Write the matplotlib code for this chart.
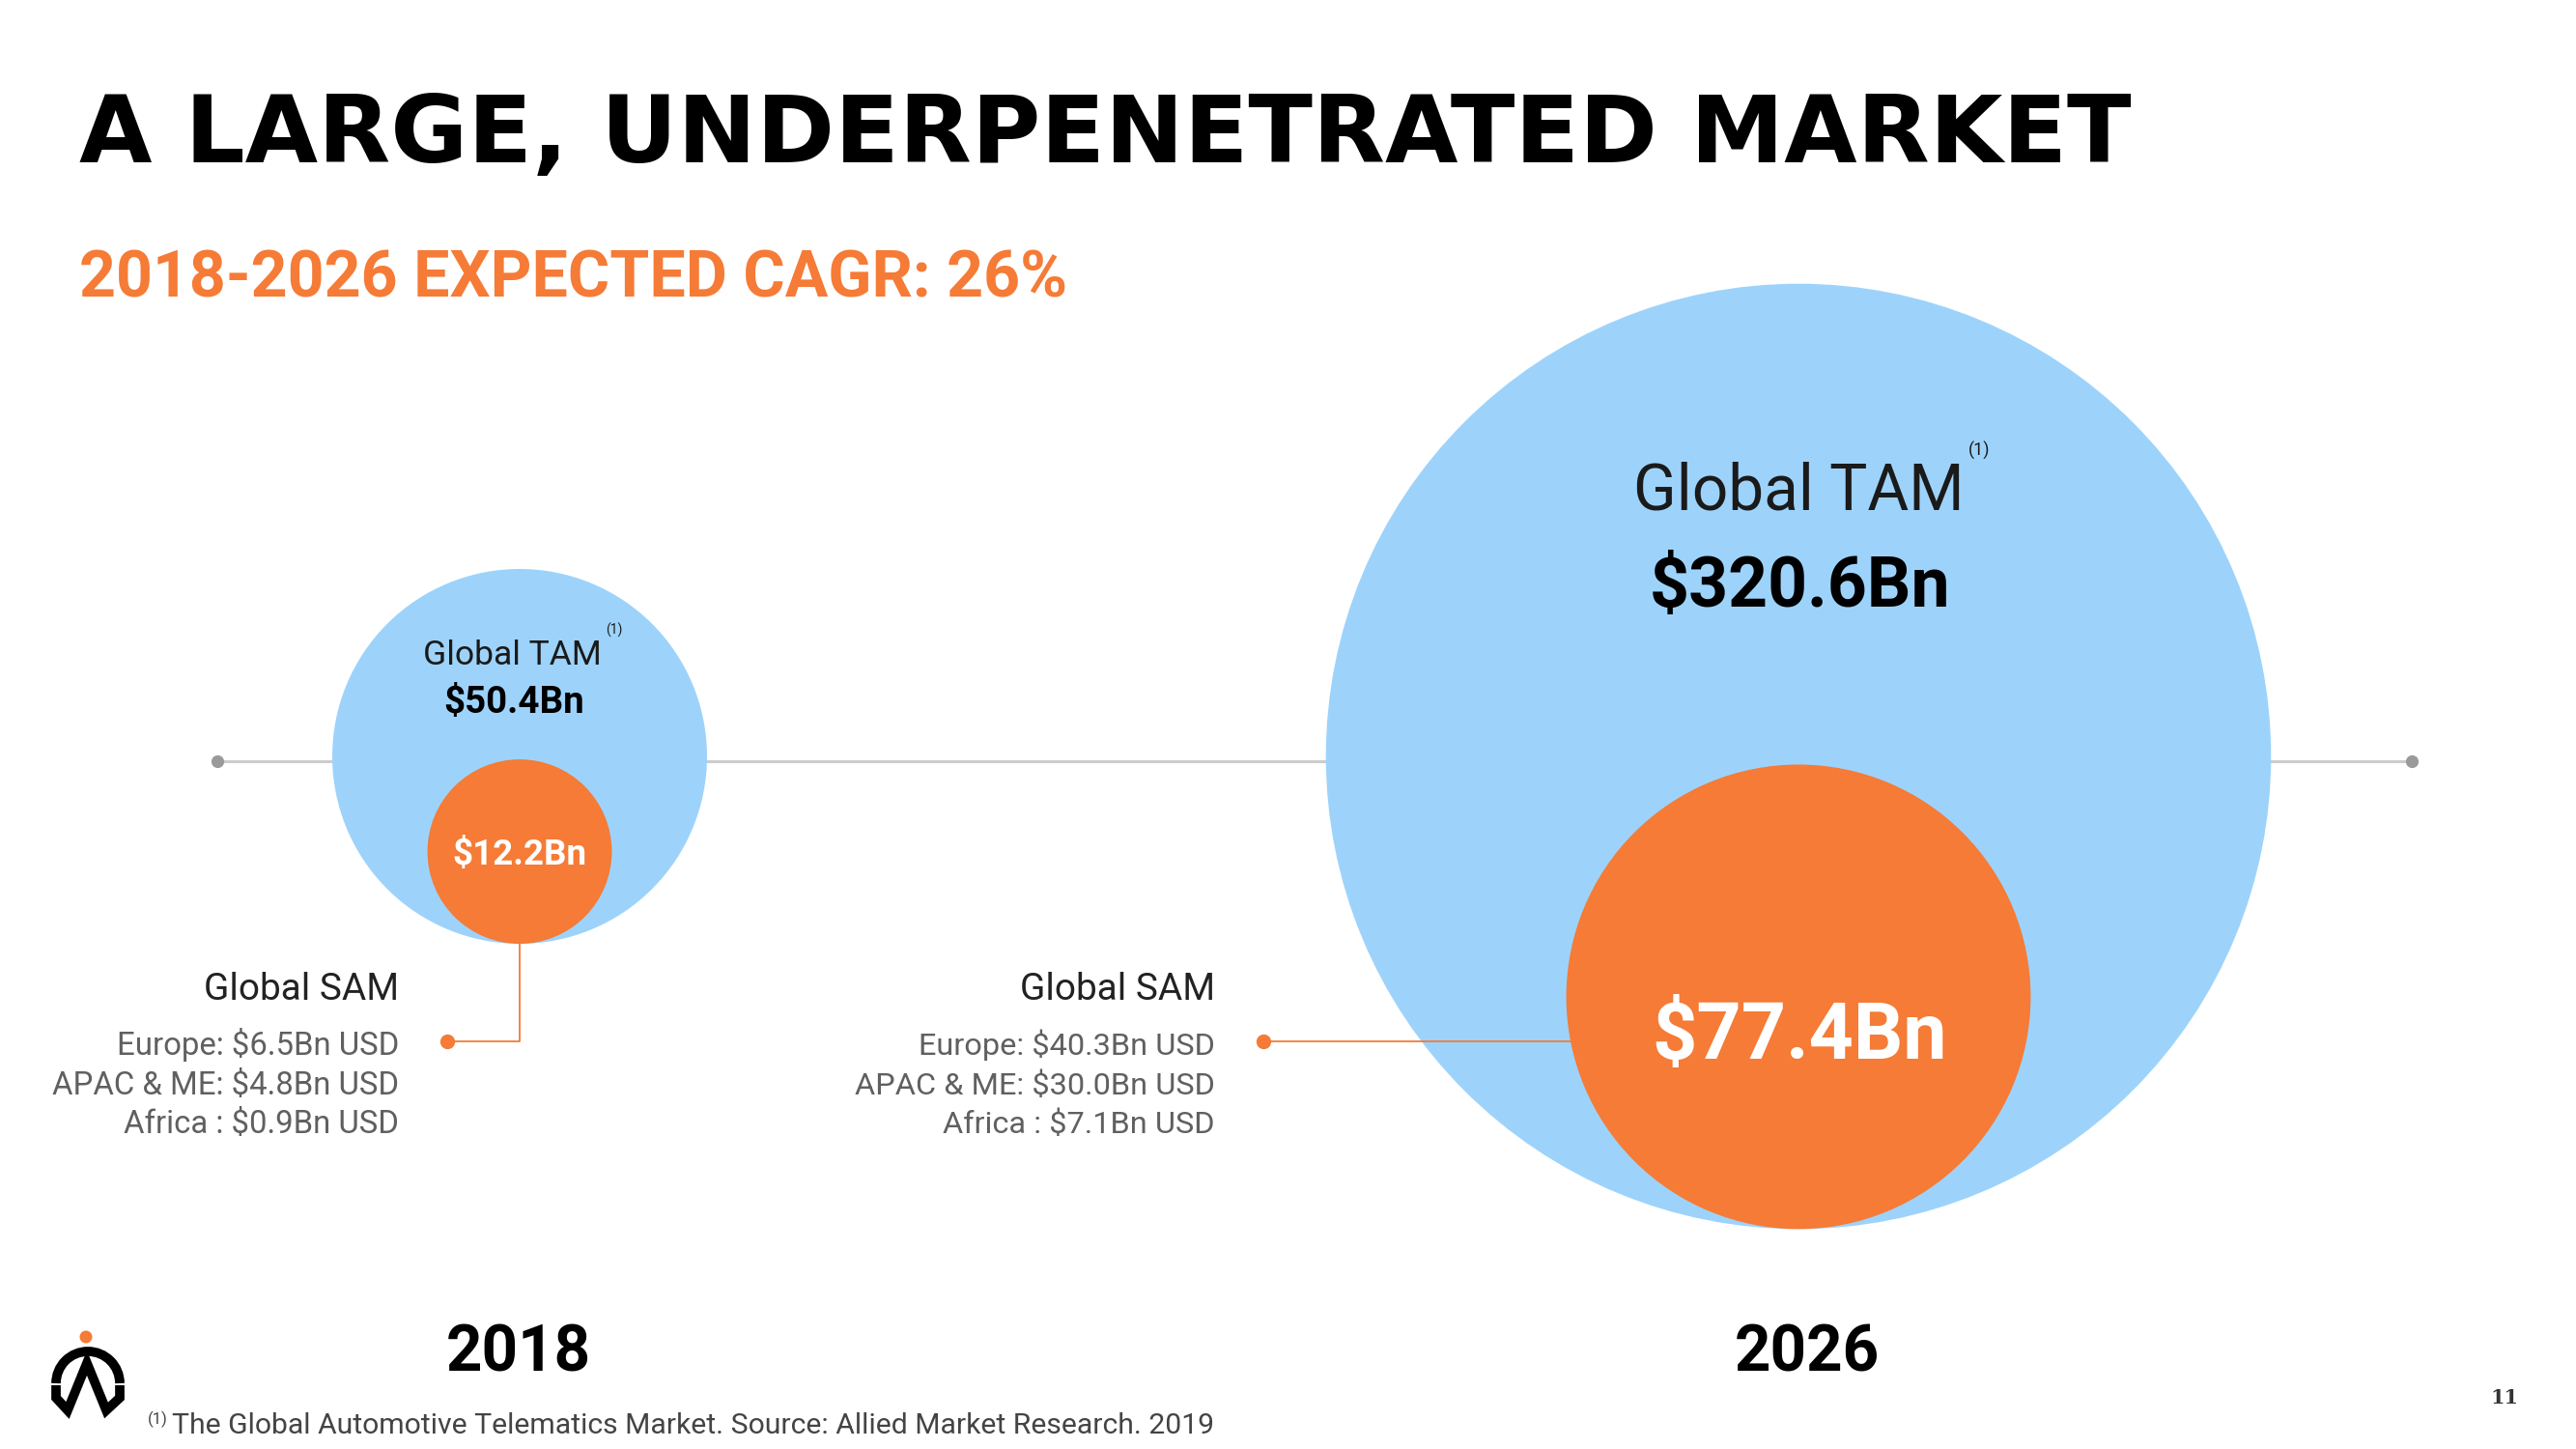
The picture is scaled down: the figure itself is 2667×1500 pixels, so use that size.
"""Market size slide: TAM / SAM bubbles for 2018 and 2026 on a timeline."""
import matplotlib

matplotlib.use("Agg")
import matplotlib.pyplot as plt  # noqa: E402
from matplotlib.patches import Arc, Circle  # noqa: E402

plt.rcParams["text.parse_math"] = False

# ---- data -----------------------------------------------------------------
years = ["2018", "2026"]
tam = [50.4, 320.6]          # global TAM, $Bn
sam = [12.2, 77.4]           # global SAM, $Bn
regions = ["Europe", "APAC & ME", "Africa "]
sam_regions = [[6.5, 4.8, 0.9], [40.3, 30.0, 7.1]]
title = "A LARGE, UNDERPENETRATED MARKET"
subtitle = "2018-2026 EXPECTED CAGR: 26%"
footnote = "The Global Automotive Telematics Market. Source: Allied Market Research. 2019"
page = "11"

# ---- style ----------------------------------------------------------------
BLUE = "#9dd3fb"
ORANGE = "#f57b36"
W, H = 2667, 1500
LINE_Y = 788
CX = [538, 1862]             # bubble centres (px)
K = 194 / tam[0] ** 0.5      # px radius per sqrt($Bn) -> area ~ value

fig = plt.figure(figsize=(W / 100, H / 100), dpi=100)
fig.patch.set_facecolor("white")
ax = fig.add_axes([0, 0, 1, 1])
ax.set_xlim(0, W)
ax.set_ylim(H, 0)
ax.axis("off")
R = fig.canvas.get_renderer()


def fit(t, width):
    """rescale a text so its rendered width matches `width` px"""
    bb = t.get_window_extent(R)
    t.set_fontsize(t.get_fontsize() * width / bb.width)
    return t


# headline
fit(ax.text(82, 168, title, family="DejaVu Sans", weight="heavy",
            fontsize=72, color="black", va="baseline"), 2121)
fit(ax.text(82, 307, subtitle, family="Roboto", weight="bold",
            fontsize=46, color=ORANGE, va="baseline"), 1022)

# timeline
ax.plot([225, 2497], [LINE_Y, LINE_Y], color="#cccccc", lw=2.2, zorder=1,
        solid_capstyle="butt")
ax.plot([225, 2497], [LINE_Y, LINE_Y], "o", color="#9a9a9a", ms=8.5, zorder=1)

# bubbles
for i, cx in enumerate(CX):
    rt = K * tam[i] ** 0.5
    rs = K * sam[i] ** 0.5
    ax.add_patch(Circle((cx, LINE_Y - 5), rt, color=BLUE, lw=0, zorder=2))
    ax.add_patch(Circle((cx, LINE_Y - 5 + rt - rs), rs, color=ORANGE, lw=0,
                        zorder=4))

# TAM labels
fit(ax.text(530, 688, "Global TAM", family="Roboto", fontsize=25,
            color="#1a1a1a", ha="center", va="baseline", zorder=5), 185)
ax.text(627, 645, "(1)", family="Roboto", fontsize=10, color="#1a1a1a",
        va="top", zorder=5)
fit(ax.text(532, 738, f"${tam[0]:.1f}Bn", family="Roboto", weight="bold",
            fontsize=24, color="black", ha="center", va="baseline",
            zorder=5), 146)
fit(ax.text(1862, 527, "Global TAM", family="Roboto", fontsize=50,
            color="#1a1a1a", ha="center", va="baseline", zorder=5), 343)
ax.text(2038, 457, "(1)", family="Roboto", fontsize=13, color="#1a1a1a",
        va="top", zorder=5)
fit(ax.text(1864, 628, f"${tam[1]:.1f}Bn", family="Roboto", weight="bold",
            fontsize=50, color="black", ha="center", va="baseline",
            zorder=5), 312)

# SAM values inside orange bubbles
fit(ax.text(538, 895, f"${sam[0]:.1f}Bn", family="Roboto", weight="bold",
            fontsize=24, color="white", ha="center", va="baseline",
            zorder=5), 139)
fit(ax.text(1863, 1096, f"${sam[1]:.1f}Bn", family="Roboto", weight="bold",
            fontsize=60, color="white", ha="center", va="baseline",
            zorder=5), 306)

# SAM breakdown + connectors
for i, right in enumerate([413, 1258]):
    fit(ax.text(right, 1035, "Global SAM", family="Roboto", fontsize=23,
                color="#222222", ha="right", va="baseline"), 202)
    rows = []
    for j, (name, v) in enumerate(zip(regions, sam_regions[i])):
        rows.append(ax.text(right, 1092 + j * 40.5, f"{name}: ${v:.1f}Bn USD",
                            family="Roboto", fontsize=19.5,
                            color="#606060", ha="right", va="baseline"))
    # scale the block so the widest row matches the reference
    widest = max(r.get_window_extent(R).width for r in rows)
    target = 359 if i == 0 else 1258 - 885
    for r in rows:
        r.set_fontsize(r.get_fontsize() * target / widest)
    dot_x, dot_y = right + 50, 1078
    ax.plot([dot_x], [dot_y], "o", color=ORANGE, ms=10, zorder=6)
    if i == 0:
        ax.plot([dot_x, CX[0], CX[0]], [dot_y, dot_y, 960], color=ORANGE,
                lw=1.3, zorder=3)
    else:
        ax.plot([dot_x, CX[1]], [dot_y, dot_y], color=ORANGE, lw=1.3,
                zorder=3)

# year labels
for x, yr in zip([537, 1871], years):
    fit(ax.text(x, 1420, yr, family="Roboto", weight="bold", fontsize=48,
                color="black", ha="center", va="baseline"), 150)

# footnote
ax.text(153, 1461, "(1)", family="Roboto", fontsize=12, color="#444444",
        va="top")
fit(ax.text(178, 1484, footnote, family="Roboto", fontsize=22,
            color="#444444", va="baseline"), 1076)

# page number
fit(ax.text(2593, 1453, page, family="DejaVu Serif", weight="bold",
            fontsize=17, color="#333333", ha="center", va="baseline"), 29)

# logo
ax.add_patch(Circle((89, 1384), 6.5, color=ORANGE, lw=0))
ax.add_patch(Arc((91, 1432), 66, 66, theta1=180, theta2=360, color="black",
                 lw=7))
ax.plot([58, 58, 70, 90, 110, 124, 124], [1434, 1447, 1460, 1411, 1460, 1447, 1434],
        color="black", lw=7, solid_joinstyle="miter", solid_capstyle="butt")

fig.savefig("out.png", dpi=100, facecolor="white")
